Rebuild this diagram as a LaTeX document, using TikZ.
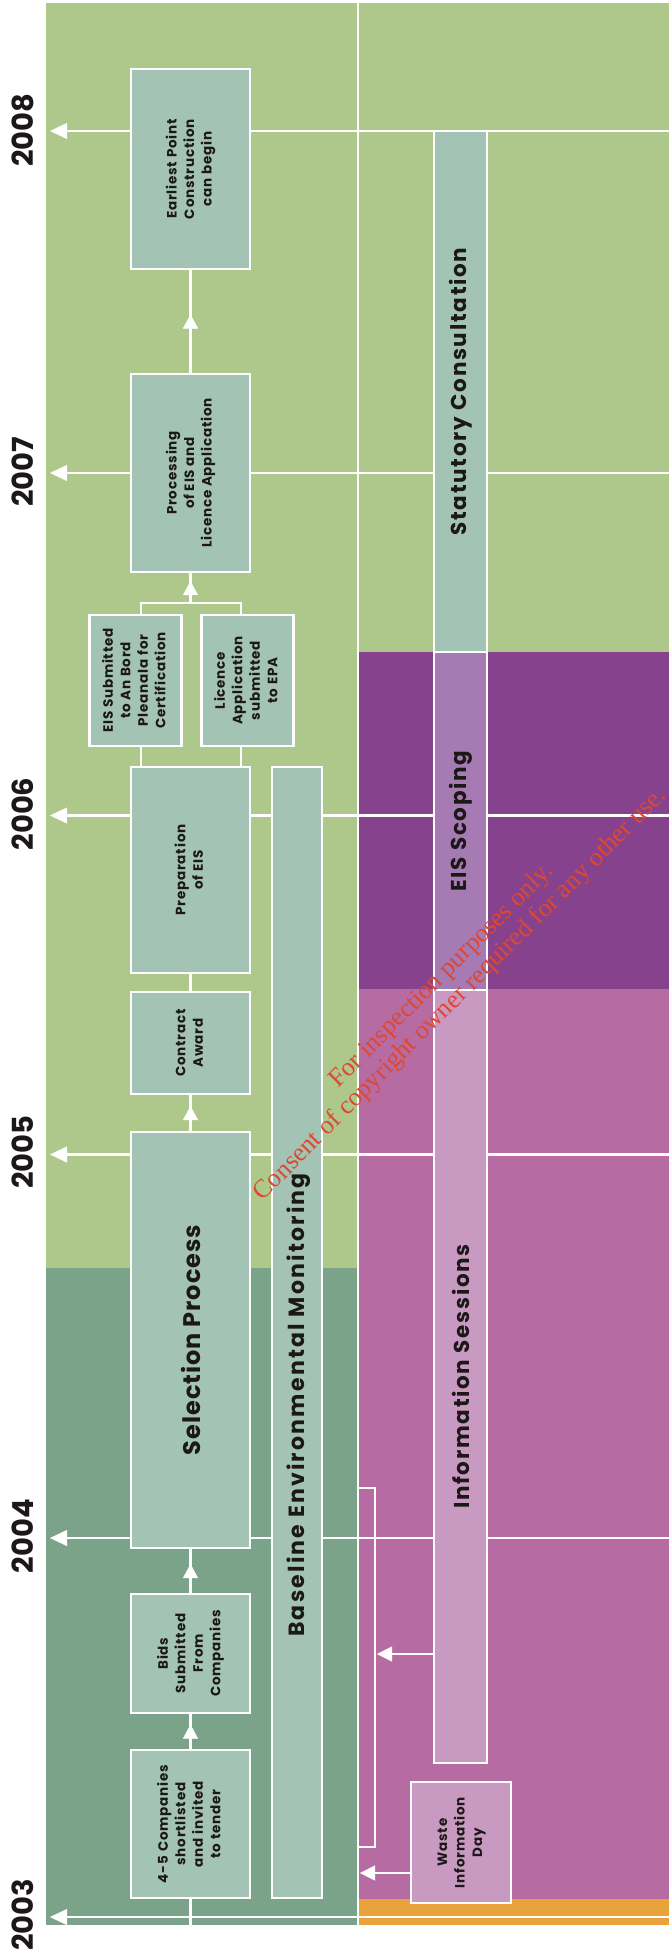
\documentclass[tikz,border=0pt]{standalone}
\usepackage{fontspec}
\setmainfont{Poppins}
\newfontfamily\wmfont{Liberation Serif}
\usetikzlibrary{arrows.meta,decorations.markings}
\definecolor{lgreen}{RGB}{174,199,138}
\definecolor{dgreen}{RGB}{123,163,137}
\definecolor{boxfill}{RGB}{163,195,180}
\definecolor{dpurple}{RGB}{134,66,140}
\definecolor{ppink}{RGB}{183,107,163}
\definecolor{scopfill}{RGB}{166,122,178}
\definecolor{infofill}{RGB}{200,154,194}
\definecolor{oband}{RGB}{232,163,58}
\definecolor{txt}{RGB}{28,24,24}
\definecolor{wmred}{RGB}{222,72,50}
\pgfdeclarelayer{bg}
\pgfdeclarelayer{lines}
\pgfsetlayers{bg,lines,main}
\tikzset{
  conn/.style={draw=white, line width=2.6pt},
  yeararrow/.style={conn, -{Triangle[length=17pt,width=16pt,line width=0.4pt]}},
  sidearrow/.style={conn, -{Triangle[length=15pt,width=15pt,line width=0.4pt]}},
  midarrow/.style={conn, postaction={decorate},
    decoration={markings, mark=at position 0.5 with {\arrow[white,xshift=7pt]{Triangle[length=14pt,width=15pt,line width=0.4pt]}}}},
  stepbox/.style={draw=white, line width=2.6pt, fill=boxfill, inner sep=0pt, text=txt,
    font=\bfseries\fontsize{13.5}{17.5}\selectfont\addfontfeatures{LetterSpace=6}},
  barfont/.style={inner sep=0pt, text=txt,
    font=\bfseries\fontsize{21.5}{24}\selectfont\addfontfeatures{LetterSpace=8}},
  barbox/.style={barfont, draw=white, line width=2.6pt},
  yearlabel/.style={inner sep=0pt, text=txt, font=\bfseries\fontsize{29}{32}\selectfont},
  wm/.style={inner sep=0pt, text=wmred, font=\wmfont\fontsize{26}{26.5}\selectfont},
}
\newcommand{\rt}[1]{\rotatebox{90}{\begin{tabular}{@{}c@{}}#1\end{tabular}}}
\begin{document}
\begin{tikzpicture}[x=1pt,y=-1pt]
\useasboundingbox (0,0) rectangle (669,1955);
% backgrounds
\begin{pgfonlayer}{bg}
\fill[lgreen] (46,3) rectangle (358,1268);
\fill[dgreen] (46,1268) rectangle (358,1925);
\fill[lgreen] (358,3) rectangle (669,652);
\fill[dpurple] (358,652) rectangle (669,989);
\fill[ppink] (358,989) rectangle (669,1899);
\fill[oband] (358,1899) rectangle (669,1925);
\end{pgfonlayer}
% boxes
\node[stepbox, minimum width=119pt, minimum height=200pt] (earliest) at (190.5,169) {\rt{Earliest Point\\Construction\\can begin}};
\node[stepbox, minimum width=119pt, minimum height=198pt] (proc) at (190.5,473) {\rt{Processing\\of EIS and\\Licence Application}};
\node[stepbox, minimum width=92pt, minimum height=131pt] (eissub) at (135.5,680.5) {\rt{EIS Submitted\\to An Bord\\Pleanala for\\Certification}};
\node[stepbox, minimum width=92pt, minimum height=131pt] (lic) at (247.6,680.5) {\rt{Licence\\Application\\submitted\\to EPA}};
\node[stepbox, minimum width=119pt, minimum height=206pt] (prep) at (190.5,870) {\rt{Preparation\\of EIS}};
\node[stepbox, minimum width=119pt, minimum height=102pt] (contract) at (190.5,1043) {\rt{Contract\\Award}};
\node[stepbox, minimum width=119pt, minimum height=416pt, font=\bfseries\fontsize{24}{28}\selectfont\addfontfeatures{LetterSpace=4}] (sel) at (190.5,1340) {\rotatebox{90}{Selection Process}};
\node[stepbox, minimum width=119pt, minimum height=119pt] (bids) at (190.5,1653.5) {\rt{Bids\\Submitted\\From\\Companies}};
\node[stepbox, minimum width=119pt, minimum height=148pt] (comp) at (190.5,1824) {\rt{4-5 Companies\\shortlisted\\and invited\\to tender}};
\node[barbox, fill=boxfill, minimum width=50pt, minimum height=1131pt] (base) at (297,1332.5) {};
\node[barfont, font=\bfseries\fontsize{22}{24}\selectfont\addfontfeatures{LetterSpace=10}] (baset) at (299,1405) {\rotatebox{90}{Baseline Environmental Monitoring}};
\node[barbox, fill=boxfill, minimum width=53pt, minimum height=521pt] (stat) at (460.5,391.5) {\rotatebox{90}{Statutory Consultation}};
\node[barbox, fill=scopfill, minimum width=53pt, minimum height=338pt] (scop) at (460.5,821) {\rotatebox{90}{EIS Scoping}};
\node[barbox, fill=infofill, minimum width=53pt, minimum height=773pt] (info) at (460.5,1376.5) {\rotatebox{90}{Information Sessions}};
\node[stepbox, fill=infofill, minimum width=100pt, minimum height=121pt] (waste) at (461,1842.5) {\rt{Waste\\Information\\Day}};
% year lines and connectors
\begin{pgfonlayer}{lines}
\coordinate (dT) at (358,3); \coordinate (dB) at (358,1925);
\draw[conn] (dT) -- (dB);
\foreach \yr/\yy in {2008/131,2007/473,2006/815.5,2005/1154.5,2004/1538,2003/1917}{
  \coordinate (r\yr) at (669,\yy);
  \coordinate (t\yr) at (50,\yy);
  \draw[yeararrow] (r\yr) -- (t\yr);
}
\draw[midarrow] (proc.north) -- (earliest.south);
\coordinate (bL) at (141,603); \coordinate (bR) at (241,603); \coordinate (bM) at (190.5,603);
\draw[conn] (eissub.north -| bL) -- (bL) -- (bR) -- (lic.north -| bR);
\draw[midarrow] (bM) -- (proc.south);
\draw[conn] (prep.north -| bL) -- (eissub.south -| bL);
\draw[conn] (prep.north -| bR) -- (lic.south -| bR);
\draw[conn] (contract.north) -- (prep.south);
\draw[midarrow] (sel.north) -- (contract.south);
\draw[midarrow] (bids.north) -- (sel.south);
\draw[midarrow] (comp.north) -- (bids.south);
\coordinate (cB) at (190.5,1925);
\draw[conn] (cB) -- (comp.south);
\coordinate (k1) at (358,1488); \coordinate (k2) at (375,1488);
\coordinate (k3) at (375,1847); \coordinate (k4) at (358,1847);
\draw[conn] (k1) -- (k2) -- (k3) -- (k4);
\coordinate (iA) at (377,1654);
\draw[sidearrow] (info.west |- iA) -- (iA);
\coordinate (wA) at (360,1873);
\draw[sidearrow] (waste.west |- wA) -- (wA);
\end{pgfonlayer}
% year labels
\node[yearlabel] (l2008) at (22.5,130) {\rotatebox{90}{2008}};
\node[yearlabel] (l2007) at (22.5,472) {\rotatebox{90}{2007}};
\node[yearlabel] (l2006) at (22.5,814) {\rotatebox{90}{2006}};
\node[yearlabel] (l2005) at (22.5,1152) {\rotatebox{90}{2005}};
\node[yearlabel] (l2004) at (22.5,1536) {\rotatebox{90}{2004}};
\node[yearlabel] (l2003) at (22.5,1915) {\rotatebox{90}{2003}};
% watermark
\node[wm] (wmark) at (452,986) {\rotatebox{45}{\begin{tabular}{@{}c@{}}For inspection purposes only.\\Consent of copyright owner required for any other use.\end{tabular}}};
\end{tikzpicture}
\end{document}
